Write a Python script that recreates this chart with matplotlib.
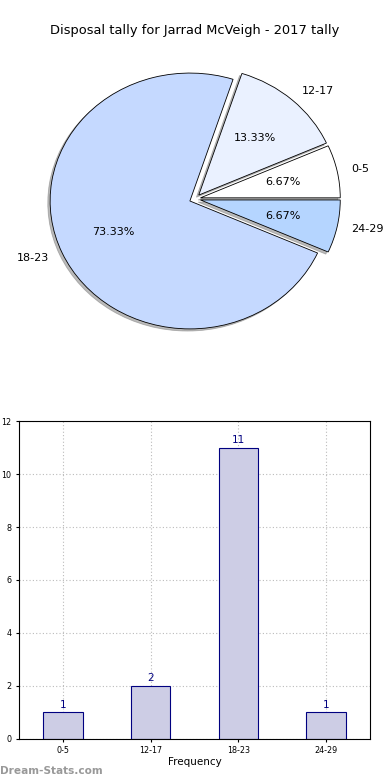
import matplotlib
matplotlib.use("Agg")
import matplotlib.pyplot as plt
import numpy as np

# ----- Data -----
TITLE = "Disposal tally for Jarrad McVeigh - 2017 tally"
categories = ["0-5", "12-17", "18-23", "24-29"]
counts = [1, 2, 11, 1]
pie_colors = ["#ffffff", "#eaf1ff", "#c5d9ff", "#b5d5ff"]
explode = [0.04, 0.04, 0.04, 0.04]

fig = plt.figure(figsize=(3.9, 7.8), dpi=100)

# ----- Pie -----
ax1 = fig.add_axes([0.052, 0.54, 0.896, 0.41])
ax1.pie(counts, labels=categories, colors=pie_colors, explode=explode,
        autopct="%.2f%%", shadow=dict(ox=-0.012, oy=-0.012, color="#777777"),
        startangle=0,
        wedgeprops=dict(edgecolor="black", linewidth=0.6),
        textprops=dict(fontsize=8))
ax1.set_aspect("auto")
ax1.set_xlim(-1.25, 1.25)
ax1.set_ylim(-1.25, 1.25)
fig.text(0.5, 0.961, TITLE, ha="center", va="center", fontsize=9.4)

# ----- Bar -----
ax2 = fig.add_axes([0.049, 0.053, 0.90, 0.407])
x = np.arange(len(categories))
ax2.bar(x, counts, width=0.45, color="#cdcde5", edgecolor="navy",
        linewidth=0.8, zorder=2)
for xi, c in zip(x, counts):
    ax2.text(xi, c + 0.1, str(c), ha="center", va="bottom",
             color="navy", fontsize=7.5)
ax2.set_xticks(x)
ax2.set_xticklabels(categories)
ax2.set_xlim(-0.5, 3.5)
ax2.set_ylim(0, 12)
ax2.set_yticks(range(0, 13, 2))
ax2.tick_params(labelsize=5.8, length=2)
ax2.grid(True, linestyle=(0, (1, 2)), color="#bbbbbb", linewidth=0.8, zorder=0)
ax2.set_axisbelow(True)
ax2.set_xlabel("Frequency", fontsize=7.5, labelpad=1)
ax2.set_ylabel("Disposal tally", fontsize=7.5, labelpad=3)

fig.text(0.0, 0.005, "Dream-Stats.com", color="#999999", fontsize=7.6,
         fontweight="bold", ha="left", va="bottom")

fig.savefig("out.png", dpi=100)
